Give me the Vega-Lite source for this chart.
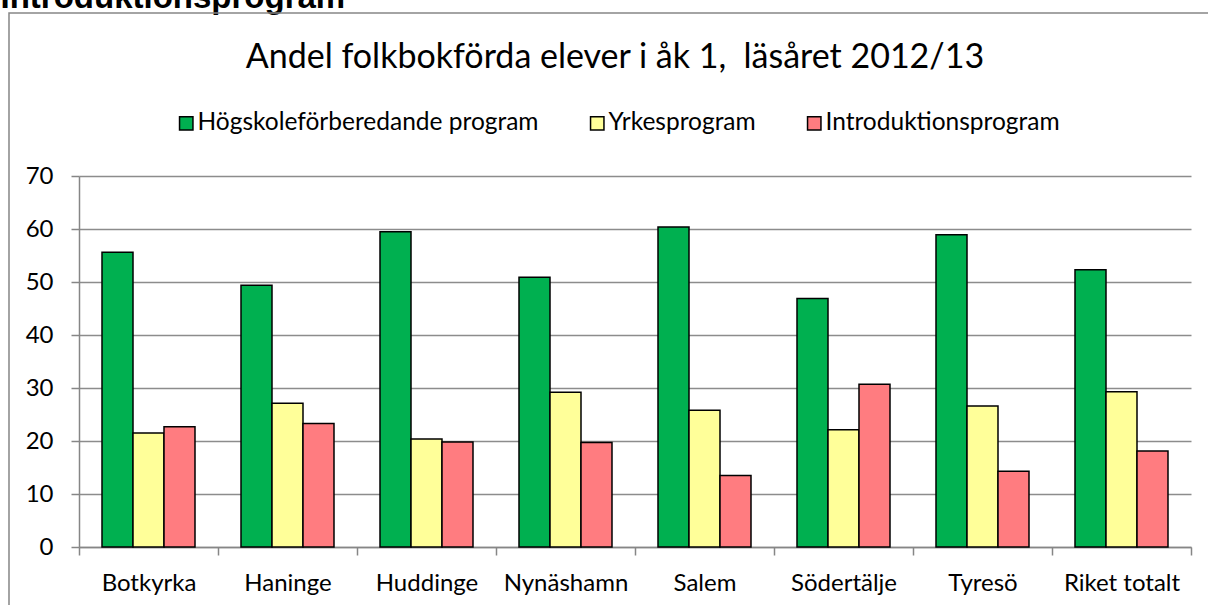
{
  "$schema": "https://vega.github.io/schema/vega-lite/v6.json",
  "width": 1112,
  "height": 371,
  "autosize": {"type": "none"},
  "padding": {"left": 79, "top": 176, "right": 17, "bottom": 58},
  "background": "white",
  "title": {
    "text": "Andel folkbokförda elever i åk 1,\u00a0 läsåret 2012/13",
    "anchor": "middle",
    "frame": "group",
    "font": "Lato",
    "fontSize": 34,
    "fontWeight": "normal",
    "color": "black",
    "dx": -20,
    "offset": -94
  },
  "config": {"view": {"stroke": null}, "font": "Lato"},
  "layer": [
    {
      "data": {"values": [{"frame": "chart area"}]},
      "mark": {"type": "rect", "fill": "transparent", "stroke": "#868686", "strokeWidth": 1.5, "clip": false},
      "encoding": {
        "x": {"datum": -0.5036, "type": "quantitative", "scale": {"domain": [0, 8], "nice": false, "zero": false}, "axis": null},
        "x2": {"datum": 9},
        "y": {"datum": 100.75, "type": "quantitative", "scale": {"domain": [0, 70], "nice": false}, "axis": null},
        "y2": {"datum": -30}
      }
    },
    {
      "data": {
        "values": [
          {"kommun": "Botkyrka", "program": "Högskoleförberedande program", "andel": 55.6},
          {"kommun": "Botkyrka", "program": "Yrkesprogram", "andel": 21.5},
          {"kommun": "Botkyrka", "program": "Introduktionsprogram", "andel": 22.7},
          {"kommun": "Haninge", "program": "Högskoleförberedande program", "andel": 49.4},
          {"kommun": "Haninge", "program": "Yrkesprogram", "andel": 27.1},
          {"kommun": "Haninge", "program": "Introduktionsprogram", "andel": 23.3},
          {"kommun": "Huddinge", "program": "Högskoleförberedande program", "andel": 59.5},
          {"kommun": "Huddinge", "program": "Yrkesprogram", "andel": 20.4},
          {"kommun": "Huddinge", "program": "Introduktionsprogram", "andel": 19.8},
          {"kommun": "Nynäshamn", "program": "Högskoleförberedande program", "andel": 50.9},
          {"kommun": "Nynäshamn", "program": "Yrkesprogram", "andel": 29.2},
          {"kommun": "Nynäshamn", "program": "Introduktionsprogram", "andel": 19.7},
          {"kommun": "Salem", "program": "Högskoleförberedande program", "andel": 60.4},
          {"kommun": "Salem", "program": "Yrkesprogram", "andel": 25.8},
          {"kommun": "Salem", "program": "Introduktionsprogram", "andel": 13.5},
          {"kommun": "Södertälje", "program": "Högskoleförberedande program", "andel": 46.9},
          {"kommun": "Södertälje", "program": "Yrkesprogram", "andel": 22.1},
          {"kommun": "Södertälje", "program": "Introduktionsprogram", "andel": 30.7},
          {"kommun": "Tyresö", "program": "Högskoleförberedande program", "andel": 58.9},
          {"kommun": "Tyresö", "program": "Yrkesprogram", "andel": 26.6},
          {"kommun": "Tyresö", "program": "Introduktionsprogram", "andel": 14.3},
          {"kommun": "Riket totalt", "program": "Högskoleförberedande program", "andel": 52.3},
          {"kommun": "Riket totalt", "program": "Yrkesprogram", "andel": 29.3},
          {"kommun": "Riket totalt", "program": "Introduktionsprogram", "andel": 18.1}
        ]
      },
      "mark": {"type": "bar", "stroke": "black", "strokeWidth": 1.5},
      "encoding": {
        "x": {
          "field": "kommun",
          "type": "nominal",
          "sort": null,
          "scale": {"paddingInner": 0, "paddingOuter": 0},
          "axis": {
            "title": null,
            "labelAngle": 0,
            "labelFont": "Lato",
            "labelFontSize": 24,
            "labelColor": "black",
            "labelPadding": 16,
            "tickBand": "extent",
            "tickSize": 8,
            "tickColor": "#868686",
            "tickWidth": 1.5,
            "domainColor": "#868686",
            "domainWidth": 1.5,
            "grid": false
          }
        },
        "xOffset": {
          "field": "program",
          "type": "nominal",
          "sort": ["Högskoleförberedande program", "Yrkesprogram", "Introduktionsprogram"],
          "scale": {"paddingInner": 0, "paddingOuter": 0.742}
        },
        "y": {
          "field": "andel",
          "type": "quantitative",
          "scale": {"domain": [0, 70], "nice": false},
          "axis": {
            "values": [0, 10, 20, 30, 40, 50, 60, 70],
            "labelFont": "Lato",
            "labelFontSize": 24,
            "labelColor": "black",
            "labelPadding": 18,
            "tickSize": 8,
            "tickColor": "#868686",
            "tickWidth": 1.5,
            "domainColor": "#868686",
            "domainWidth": 1.5,
            "grid": true,
            "gridColor": "#8c8c8c",
            "gridWidth": 1.5,
            "title": "Introduktionsprogram",
            "titleAngle": 0,
            "titleX": -79,
            "titleY": -169,
            "titleAlign": "left",
            "titleBaseline": "alphabetic",
            "titleFont": "Liberation Sans",
            "titleFontWeight": "bold",
            "titleFontSize": 33,
            "titleColor": "black"
          }
        },
        "color": {
          "field": "program",
          "type": "nominal",
          "scale": {
            "domain": ["Högskoleförberedande program", "Yrkesprogram", "Introduktionsprogram"],
            "range": ["#00B050", "#FFFF99", "#FF7C80"]
          },
          "legend": {
            "title": null,
            "orient": "none",
            "legendX": 95,
            "legendY": -65,
            "direction": "horizontal",
            "symbolType": "square",
            "symbolSize": 180,
            "symbolStrokeColor": "black",
            "symbolStrokeWidth": 1.5,
            "labelFont": "Lato",
            "labelFontSize": 24.5,
            "labelColor": "black",
            "labelOffset": -1,
            "columnPadding": 46,
            "labelLimit": 500
          }
        }
      }
    }
  ],
  "resolve": {"scale": {"x": "independent", "y": "independent"}, "axis": {"x": "independent", "y": "independent"}}
}
